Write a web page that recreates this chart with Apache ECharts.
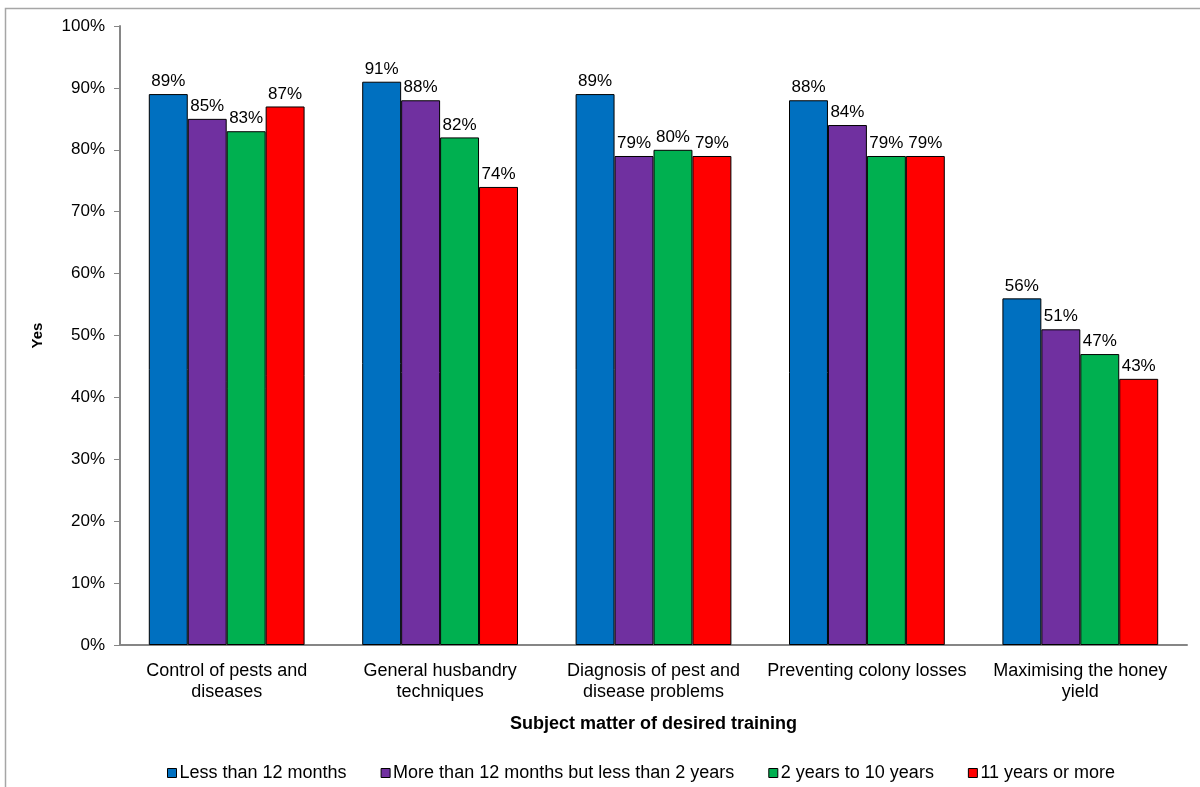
<!DOCTYPE html>
<html>
<head>
<meta charset="utf-8">
<script src="https://cdn.jsdelivr.net/npm/echarts@6/dist/echarts.min.js"></script>
<style>
  html, body { margin: 0; padding: 0; background: #fff; }
  #chart { width: 1200px; height: 787px; }
</style>
</head>
<body>
<div id="chart"></div>
<script>
// Training topics and respondent experience groups
const categories = [
  'Control of pests and\ndiseases',
  'General husbandry\ntechniques',
  'Diagnosis of pest and\ndisease problems',
  'Preventing colony losses',
  'Maximising the honey\nyield'
];
const seriesNames = [
  'Less than 12 months',
  'More than 12 months but less than 2 years',
  '2 years to 10 years',
  '11 years or more'
];
const lessThan12Months = [89, 91, 89, 88, 56];
const months12To2Years = [85, 88, 79, 84, 51];
const years2To10 = [83, 82, 80, 79, 47];
const years11OrMore = [87, 74, 79, 79, 43];
const colors = ['#0070C0', '#7030A0', '#00B050', '#FF0000'];

const FONT = 'Liberation Sans, Arial, sans-serif';
const values = [lessThan12Months, months12To2Years, years2To10, years11OrMore];

const chart = echarts.init(document.getElementById('chart'));
chart.setOption({
  animation: false,
  textStyle: { fontFamily: FONT },
  graphic: [{
    type: 'rect',
    shape: { x: 5.5, y: 8.5, width: 1200, height: 800 },
    style: { fill: 'none', stroke: '#a6a6a6', lineWidth: 1.5 },
    silent: true
  }],
  grid: { left: 120, right: 13, top: 26, bottom: 142 },
  legend: {
    top: 759,
    left: 162,
    itemWidth: 9,
    itemHeight: 9,
    itemGap: 34,
    textStyle: { fontSize: 18, color: '#000', fontFamily: FONT, padding: [0, 0, 0, -2] },
    data: seriesNames.map((n, i) => ({
      name: n,
      icon: 'rect',
      itemStyle: { color: colors[i], borderColor: '#000', borderWidth: 1 }
    }))
  },
  xAxis: {
    type: 'category',
    data: categories,
    name: 'Subject matter of desired training',
    nameLocation: 'middle',
    nameGap: 70,
    nameTextStyle: { fontSize: 18, fontWeight: 'bold', color: '#000', fontFamily: FONT },
    axisLine: { lineStyle: { color: '#868686', width: 2 } },
    axisTick: { show: false },
    axisLabel: { fontSize: 18, color: '#000', margin: 16, lineHeight: 21, interval: 0, fontFamily: FONT }
  },
  yAxis: {
    type: 'value',
    min: 0,
    max: 100,
    interval: 10,
    name: 'Yes',
    nameLocation: 'middle',
    nameGap: 75,
    nameTextStyle: { fontSize: 15, fontWeight: 'bold', color: '#000', fontFamily: FONT },
    axisLine: { show: true, lineStyle: { color: '#868686', width: 2 } },
    axisTick: { show: true, length: 6, lineStyle: { color: '#868686', width: 1 } },
    axisLabel: { fontSize: 17, color: '#000', margin: 15, formatter: '{value}%', fontFamily: FONT },
    splitLine: { show: false }
  },
  series: seriesNames.map((n, i) => ({
    name: n,
    type: 'bar',
    data: values[i],
    barGap: '0%',
    barCategoryGap: '27%',
    itemStyle: { color: colors[i], borderColor: '#000', borderWidth: 1 },
    label: {
      show: true,
      position: 'top',
      distance: 4,
      formatter: '{c}%',
      fontSize: 17,
      color: '#000',
      fontFamily: FONT
    }
  }))
});
</script>
</body>
</html>
